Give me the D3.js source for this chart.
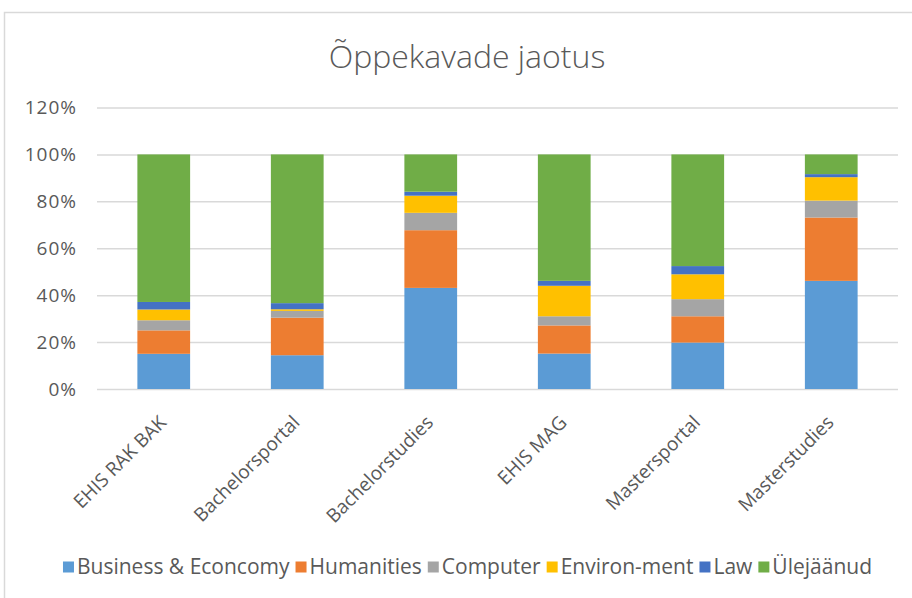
<!DOCTYPE html>
<html>
<head>
<meta charset="utf-8">
<script src="https://cdn.jsdelivr.net/npm/d3@7"></script>
<style>
  body { margin: 0; background: #fff; }
  text { font-family: "Open Sans", sans-serif; fill: #595959; }
</style>
</head>
<body>
<script>

// data (percent of each category)
const categories = ['EHIS RAK BAK', 'Bachelorsportal', 'Bachelorstudies', 'EHIS MAG', 'Mastersportal', 'Masterstudies']
const business = [15.0, 14.4, 43.1, 15.1, 19.8, 46.1]
const humanities = [10.0, 16.0, 24.6, 12.0, 11.2, 27.0]
const computer = [4.3, 2.9, 7.4, 3.9, 7.3, 7.2]
const environment = [4.6, 0.7, 7.3, 13.0, 10.6, 10.0]
const law = [3.2, 2.6, 1.7, 2.1, 3.5, 1.3]
const other = [62.9, 63.4, 15.9, 53.9, 47.6, 8.4]

const seriesNames = ['Business & Econcomy', 'Humanities', 'Computer', 'Environ-ment', 'Law', 'Ülejäänud']
const seriesColors = ['#5b9bd5', '#ed7d31', '#a5a5a5', '#ffc000', '#4472c4', '#70ad47']
const yTicks = [0, 20, 40, 60, 80, 100, 120]

const W = 912, H = 598

const svg = d3.select(document.body)
    .append('svg')
        .attr('width', W)
        .attr('height', H)

// chart frame (runs off the right and bottom edge like the screenshot)
svg.append('rect')
    .attr('x', 4.5).attr('y', 12.5)
    .attr('width', W + 20).attr('height', H + 20)
    .attr('fill', '#fff')
    .attr('stroke', '#d9d9d9')
    .attr('stroke-width', 1.5)

svg.append('text')
    .attr('x', 467).attr('y', 68)
    .attr('text-anchor', 'middle')
    .attr('font-size', 32)
    .attr('font-weight', 300)
    .text('Õppekavade jaotus')

const x = d3.scaleBand()
    .domain(categories)
    .range([97, 898])
    .paddingInner(0.605)
    .paddingOuter(0.3025)

const y = d3.scaleLinear()
    .domain([0, 120])
    .range([389, 107.5])

// gridlines
svg.append('g')
    .attr('transform', 'translate(97,0)')
    .call(d3.axisLeft(y).tickValues(yTicks).tickSize(-801).tickFormat(d => d + '%').tickPadding(20))
    .call(g => g.select('.domain').remove())
    .call(g => g.selectAll('.tick line').attr('stroke', '#d9d9d9').attr('stroke-width', 1.5))
    .call(g => g.selectAll('.tick text').attr('font-size', 19).attr('letter-spacing', 1).attr('fill', '#595959'))

const rows = categories.map((c, i) => ({
    cat: c,
    s0: business[i], s1: humanities[i], s2: computer[i],
    s3: environment[i], s4: law[i], s5: other[i]
}))

const stacked = d3.stack().keys(['s0', 's1', 's2', 's3', 's4', 's5'])(rows)

svg.append('g')
    .selectAll('g')
    .data(stacked)
    .join('g')
        .attr('fill', (d, i) => seriesColors[i])
    .selectAll('rect')
    .data(d => d)
    .join('rect')
        .attr('x', d => x(d.data.cat))
        .attr('width', x.bandwidth())
        .attr('y', d => y(d[1]))
        .attr('height', d => y(d[0]) - y(d[1]))

// category labels, rotated
svg.append('g')
    .selectAll('text')
    .data(categories)
    .join('text')
        .attr('transform', d => `translate(${x(d) + x.bandwidth() / 2 - 1},419) rotate(-45)`)
        .attr('text-anchor', 'end')
        .attr('dy', '0.35em')
        .attr('font-size', 19)
        .text(d => d)

// legend
const legend = svg.append('g')
let lx = 0
seriesNames.forEach((name, i) => {
    const item = legend.append('g').attr('transform', `translate(${lx},0)`)
    item.append('rect')
        .attr('x', 0).attr('y', -5.5)
        .attr('width', 11).attr('height', 11)
        .attr('fill', seriesColors[i])
    const t = item.append('text')
        .attr('x', 14).attr('dy', '0.35em')
        .attr('font-size', 21)
        .text(name)
    lx += 14 + t.node().getComputedTextLength() + 6
})
legend.attr('transform', `translate(${467.5 - (lx - 6) / 2},567)`)

</script>
</body>
</html>
